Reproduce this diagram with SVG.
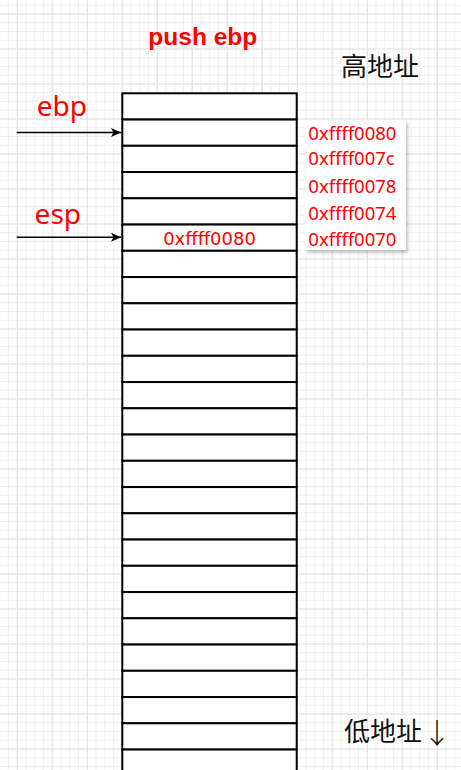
<svg xmlns="http://www.w3.org/2000/svg" xmlns:xlink="http://www.w3.org/1999/xlink" width="461" height="770" viewBox="0 0 461 770">
  <defs>
    <pattern id="minor" patternUnits="userSpaceOnUse" x="16.7" y="13.5" width="8.75" height="8.75">
      <path d="M0,0.5 H8.75 M0.5,0 V8.75" fill="none" stroke="#f1f1f1" stroke-width="1"/>
    </pattern>
    <pattern id="major" patternUnits="userSpaceOnUse" x="16.7" y="13.5" width="35" height="35">
      <path d="M0,0.5 H35 M0.5,0 V35" fill="none" stroke="#e2e2e2" stroke-width="1"/>
    </pattern>
    <marker id="arrow" markerUnits="userSpaceOnUse" viewBox="0 0 10 10" refX="10" refY="5" markerWidth="10" markerHeight="10" orient="auto">
      <path d="M0,0.5 L10,5 L0,9.5 L2.5,5 Z" fill="#000"/>
    </marker>
    <filter id="shadow" x="-10%" y="-10%" width="130%" height="130%">
      <feDropShadow dx="2" dy="3" stdDeviation="1.5" flood-color="#000" flood-opacity="0.22"/>
    </filter>
    <rect id="cell" width="174.4" height="26.25" fill="#fff" stroke="#000" stroke-width="2"/>
  </defs>
  <style>
    .red { fill: #ff0000; }
    .reg { font-family: "Noto Sans", "Liberation Sans", sans-serif; font-size: 28px; }
    .addr { font-family: "Noto Sans", "Liberation Sans", sans-serif; font-size: 18.5px; }
    .cellt { font-family: "DejaVu Sans", "Liberation Sans", sans-serif; font-size: 18px; }
    .cjk { font-family: "Noto Sans CJK SC", "Noto Sans", sans-serif; font-size: 26px; fill: #111; }
    .conn { stroke: #000; stroke-width: 1.5; fill: none; }
  </style>

  <rect width="461" height="770" fill="#fff"/>
  <rect width="461" height="770" fill="url(#minor)"/>
  <rect width="461" height="770" fill="url(#major)"/>

  <g id="title">
    <text x="202.8" y="45" text-anchor="middle" class="red" font-family="'Liberation Sans', Arial, sans-serif" font-weight="bold" font-size="24.5">push ebp</text>
  </g>

  <g id="high-label">
    <text x="341" y="76" class="cjk">高地址</text>
  </g>
  <g id="low-label">
    <text x="344" y="741" class="cjk">低地址<tspan x="423" y="744" font-family="'Noto Sans CJK SC', sans-serif" font-weight="300" font-size="28">↓</tspan></text>
  </g>

  <g id="stack">
    <g id="row-0"><use xlink:href="#cell" x="122.3" y="93.3"/></g>
    <g id="row-1"><use xlink:href="#cell" x="122.3" y="119.55"/></g>
    <g id="row-2"><use xlink:href="#cell" x="122.3" y="145.8"/></g>
    <g id="row-3"><use xlink:href="#cell" x="122.3" y="172.05"/></g>
    <g id="row-4"><use xlink:href="#cell" x="122.3" y="198.3"/></g>
    <g id="row-5"><use xlink:href="#cell" x="122.3" y="224.55"/>
      <text x="209.5" y="245" text-anchor="middle" class="red cellt">0xffff0080</text></g>
    <g id="row-6"><use xlink:href="#cell" x="122.3" y="250.8"/></g>
    <g id="row-7"><use xlink:href="#cell" x="122.3" y="277.05"/></g>
    <g id="row-8"><use xlink:href="#cell" x="122.3" y="303.3"/></g>
    <g id="row-9"><use xlink:href="#cell" x="122.3" y="329.55"/></g>
    <g id="row-10"><use xlink:href="#cell" x="122.3" y="355.8"/></g>
    <g id="row-11"><use xlink:href="#cell" x="122.3" y="382.05"/></g>
    <g id="row-12"><use xlink:href="#cell" x="122.3" y="408.3"/></g>
    <g id="row-13"><use xlink:href="#cell" x="122.3" y="434.55"/></g>
    <g id="row-14"><use xlink:href="#cell" x="122.3" y="460.8"/></g>
    <g id="row-15"><use xlink:href="#cell" x="122.3" y="487.05"/></g>
    <g id="row-16"><use xlink:href="#cell" x="122.3" y="513.3"/></g>
    <g id="row-17"><use xlink:href="#cell" x="122.3" y="539.55"/></g>
    <g id="row-18"><use xlink:href="#cell" x="122.3" y="565.8"/></g>
    <g id="row-19"><use xlink:href="#cell" x="122.3" y="592.05"/></g>
    <g id="row-20"><use xlink:href="#cell" x="122.3" y="618.3"/></g>
    <g id="row-21"><use xlink:href="#cell" x="122.3" y="644.55"/></g>
    <g id="row-22"><use xlink:href="#cell" x="122.3" y="670.8"/></g>
    <g id="row-23"><use xlink:href="#cell" x="122.3" y="697.05"/></g>
    <g id="row-24"><use xlink:href="#cell" x="122.3" y="723.3"/></g>
    <g id="row-25"><use xlink:href="#cell" x="122.3" y="749.55"/></g>
  </g>

  <g id="addresses">
    <rect x="305" y="120" width="101" height="130" fill="#fff" filter="url(#shadow)"/>
    <text x="308.3" y="139.5" class="red addr">0xffff0080</text>
    <text x="308.3" y="164.5" class="red addr">0xffff007c</text>
    <text x="308.3" y="193.3" class="red addr">0xffff0078</text>
    <text x="308.3" y="220" class="red addr">0xffff0074</text>
    <text x="308.3" y="245.7" class="red addr">0xffff0070</text>
  </g>

  <g id="ebp">
    <text x="36.7" y="116" class="red reg">ebp</text>
  </g>
  <g id="esp">
    <text x="34.6" y="224.3" class="red reg">esp</text>
  </g>

  <g id="connectors">
    <line x1="16.7" y1="132.5" x2="121" y2="132.5" class="conn" marker-end="url(#arrow)"/>
    <line x1="16.7" y1="237.2" x2="121" y2="237.2" class="conn" marker-end="url(#arrow)"/>
  </g>
</svg>
